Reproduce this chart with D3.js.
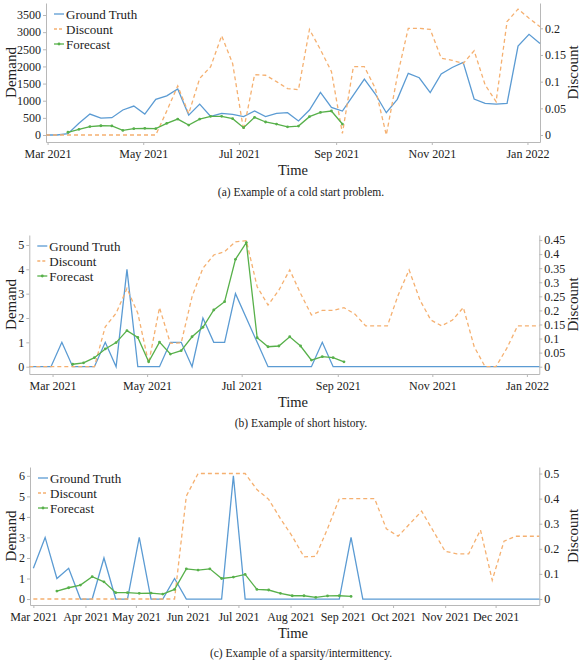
<!DOCTYPE html>
<html>
<head>
<meta charset="utf-8">
<script src="https://cdn.jsdelivr.net/npm/d3@7"></script>
<style>
  body { margin: 0; background: #fff; }
  text { font-family: "Liberation Serif", "Times New Roman", serif; fill: #222; }
</style>
</head>
<body>
<div id="chart"></div>
<script>
// ---- data (weekly) ----
// (a) cold start
const startA = "2021-02-28";
const truthA = [0, 0, 40, 340, 610, 490, 505, 730, 845, 610, 1040, 1140, 1340, 580, 900, 540, 630, 600, 535, 700, 535, 630, 650, 410, 730, 1245, 805, 700, 1165, 1630, 1195, 650, 1040, 1800, 1670, 1235, 1780, 1970, 2120, 1050, 925, 900, 925, 2595, 2935, 2670];
const discountA = [0, 0, 0, 0, 0, 0, 0, 0, 0, 0, 0, 0.045, 0.092, 0.04, 0.106, 0.128, 0.186, 0.134, 0.009, 0.113, 0.112, 0.1, 0.087, 0.085, 0.198, 0.16, 0.119, 0.003, 0.128, 0.128, 0.0875, 0, 0.11, 0.2, 0.2, 0.198, 0.144, 0.14, 0.134, 0.158, 0.094, 0.0625, 0.2125, 0.236, 0.219, 0.203];
const forecastA = [null, null, 80, 165, 245, 270, 265, 135, 185, 195, 185, 340, 465, 290, 465, 545, 545, 475, 215, 515, 380, 320, 240, 260, 535, 660, 700, 320];
const demandTicksA = [0, 500, 1000, 1500, 2000, 2500, 3000, 3500];
const discountTicksA = [0, 0.05, 0.1, 0.15, 0.2];

// (b) short history
const startB = "2021-02-14";
const truthB = [0, 0, 0, 1, 0, 0, 0, 1, 0, 4, 0, 0, 0, 1, 1, 0, 2, 1, 1, 3, 2, 1, 0, 0, 0, 0, 0, 1, 0, 0, 0, 0, 0, 0, 0, 0, 0, 0, 0, 0, 0, 0, 0, 0, 0, 0, 0, 0];
const discountB = [0, 0, 0, 0, 0, 0, 0, 0.142, 0.19, 0.278, 0.19, 0.012, 0.21, 0.083, 0.085, 0.249, 0.35, 0.397, 0.409, 0.444, 0.448, 0.284, 0.219, 0.272, 0.344, 0.26, 0.184, 0.2, 0.2, 0.21, 0.187, 0.145, 0.145, 0.145, 0.255, 0.344, 0.237, 0.166, 0.145, 0.166, 0.21, 0.071, 0, 0, 0.065, 0.145, 0.145, 0.145];
const forecastB = [null, null, null, null, 0.1, 0.16, 0.37, 0.73, 0.99, 1.48, 1.2, 0.2, 1.01, 0.52, 0.66, 1.23, 1.62, 2.33, 2.67, 4.41, 5.1, 1.19, 0.82, 0.85, 1.23, 0.85, 0.27, 0.41, 0.37, 0.2];
const demandTicksB = [0, 1, 2, 3, 4, 5];
const discountTicksB = [0, 0.05, 0.1, 0.15, 0.2, 0.25, 0.3, 0.35, 0.4, 0.45];

// (c) sparsity / intermittency
const startC = "2021-03-01";
const truthC = [1.5, 3, 1, 1.5, 0, 0, 2, 0, 0, 3, 0, 0, 1, 0, 0, 0, 0, 6, 0, 0, 0, 0, 0, 0, 0, 0, 0, 3, 0, 0, 0, 0, 0, 0, 0, 0, 0, 0, 0, 0, 0, 0, 0, 0];
const discountC = [0, 0, 0, 0, 0, 0, 0, 0, 0, 0, 0, 0, 0, 0.41, 0.5, 0.5, 0.5, 0.5, 0.5, 0.436, 0.397, 0.32, 0.25, 0.168, 0.17, 0.28, 0.4, 0.4, 0.4, 0.4, 0.28, 0.25, 0.3, 0.35, 0.27, 0.19, 0.18, 0.18, 0.275, 0.075, 0.23, 0.25, 0.25, 0.25];
const forecastC = [null, null, 0.39, 0.55, 0.68, 1.09, 0.84, 0.31, 0.31, 0.28, 0.29, 0.24, 0.47, 1.47, 1.41, 1.47, 1.0, 1.07, 1.2, 0.47, 0.44, 0.28, 0.16, 0.16, 0.08, 0.15, 0.16, 0.13];
const demandTicksC = [0, 1, 2, 3, 4, 5, 6];
const discountTicksC = [0, 0.1, 0.2, 0.3, 0.4, 0.5];

const legendNames = ["Ground Truth", "Discount", "Forecast"];
const captions = ["(a) Example of a cold start problem.", "(b) Example of short history.", "(c) Example of a sparsity/intermittency."];

// ---- layout ----
const W = 580, H = 664;
const serif = '"Liberation Serif", "Times New Roman", serif';
const colors = { truth: "#5b9bd3", discount: "#f5b070", forecast: "#57b04a", axis: "#b8b8b8" };

const panels = [
  { start: startA, truth: truthA, discount: discountA, forecast: forecastA,
    xDomain: ["2021-02-28", "2022-01-09"], months: 2,
    left: 46, right: 540, top: 3, bottom: 142,
    yDomain: [-204, 3850], y2Domain: [-0.0131, 0.2474],
    yTicks: demandTicksA, y2Ticks: discountTicksA,
    timeY: 170, captionY: 192, caption: captions[0] },
  { start: startB, truth: truthB, discount: discountB, forecast: forecastB,
    xDomain: ["2021-02-14", "2022-01-09"], months: 2,
    left: 29.3, right: 539.3, top: 235, bottom: 374,
    yDomain: [-0.3, 5.41], y2Domain: [-0.026, 0.468],
    yTicks: demandTicksB, y2Ticks: discountTicksB,
    timeY: 402, captionY: 423, caption: captions[1] },
  { start: startC, truth: truthC, discount: discountC, forecast: forecastC,
    xDomain: ["2021-02-27", "2021-12-27"], months: 1,
    left: 30, right: 539.3, top: 467, bottom: 605,
    yDomain: [-0.29, 6.43], y2Domain: [-0.024, 0.526],
    yTicks: demandTicksC, y2Ticks: discountTicksC,
    timeY: 633, captionY: 653, caption: captions[2] }
];

const svg = d3.select("#chart").append("svg")
  .attr("width", W)
  .attr("height", H)
  .attr("font-family", serif);

function styleAxis(g) {
  g.attr("font-family", serif).attr("font-size", 12);
  g.select(".domain").attr("stroke", colors.axis);
  g.selectAll(".tick line").attr("stroke", colors.axis);
  g.selectAll(".tick text").attr("fill", "#1a1a1a");
}

panels.forEach(p => {
  const parse = d3.utcParse("%Y-%m-%d");
  const t0 = parse(p.start);
  const dates = p.truth.map((d, i) => d3.utcDay.offset(t0, 7 * i));

  const x = d3.scaleUtc().domain(p.xDomain.map(parse)).range([p.left, p.right]);
  const y = d3.scaleLinear().domain(p.yDomain).range([p.bottom, p.top]);
  const y2 = d3.scaleLinear().domain(p.y2Domain).range([p.bottom, p.top]);

  const g = svg.append("g");

  // axes
  g.append("g")
    .attr("transform", `translate(0,${p.bottom})`)
    .call(d3.axisBottom(x).ticks(d3.utcMonth.every(p.months))
      .tickFormat(d3.utcFormat("%b %Y")).tickSize(3).tickSizeOuter(0).tickPadding(4))
    .call(styleAxis);

  g.append("g")
    .attr("transform", `translate(${p.left},0)`)
    .call(d3.axisLeft(y).tickValues(p.yTicks).tickFormat(d => String(d))
      .tickSize(3).tickSizeOuter(0).tickPadding(2))
    .call(styleAxis);

  g.append("g")
    .attr("transform", `translate(${p.right},0)`)
    .call(d3.axisRight(y2).tickValues(p.y2Ticks).tickFormat(d => String(+d.toFixed(2)))
      .tickSize(3).tickSizeOuter(0).tickPadding(2))
    .call(styleAxis);

  // series
  const lineL = d3.line()
    .defined(d => d[1] != null)
    .x(d => x(d[0]))
    .y(d => y(d[1]));
  const lineR = d3.line()
    .x(d => x(d[0]))
    .y(d => y2(d[1]));

  g.append("path")
    .datum(p.truth.map((v, i) => [dates[i], v]))
    .attr("fill", "none")
    .attr("stroke", colors.truth)
    .attr("stroke-width", 1.3)
    .attr("d", lineL);

  g.append("path")
    .datum(p.discount.map((v, i) => [dates[i], v]))
    .attr("fill", "none")
    .attr("stroke", colors.discount)
    .attr("stroke-width", 1.3)
    .attr("stroke-dasharray", "4,3")
    .attr("d", lineR);

  const fc = p.forecast.map((v, i) => [dates[i], v]);
  g.append("path")
    .datum(fc)
    .attr("fill", "none")
    .attr("stroke", colors.forecast)
    .attr("stroke-width", 1.3)
    .attr("d", lineL);

  g.selectAll(".fdot")
    .data(fc.filter(d => d[1] != null))
    .join("circle")
    .attr("cx", d => x(d[0]))
    .attr("cy", d => y(d[1]))
    .attr("r", 1.4)
    .attr("fill", colors.forecast);

  // legend
  const lg = g.append("g").attr("transform", `translate(${p.left + 8},${p.top + 11})`);
  legendNames.forEach((name, k) => {
    const row = lg.append("g").attr("transform", `translate(0,${k * 15})`);
    const ln = row.append("line")
      .attr("x1", 0).attr("x2", 10).attr("y1", 0).attr("y2", 0)
      .attr("stroke-width", 1.3)
      .attr("stroke", [colors.truth, colors.discount, colors.forecast][k]);
    if (k === 1) ln.attr("stroke-dasharray", "3,2");
    if (k === 2) row.append("circle").attr("cx", 5).attr("cy", 0).attr("r", 1.4).attr("fill", colors.forecast);
    row.append("text")
      .attr("x", 12).attr("y", 0).attr("dy", "0.35em")
      .style("font-size", "13px")
      .text(name);
  });

  // titles
  const midY = (p.top + p.bottom) / 2;
  g.append("text")
    .attr("transform", `translate(11,${midY}) rotate(-90)`)
    .attr("text-anchor", "middle").attr("dy", "0.35em")
    .style("font-size", "15px")
    .text("Demand");
  g.append("text")
    .attr("transform", `translate(573,${midY}) rotate(-90)`)
    .attr("text-anchor", "middle").attr("dy", "0.35em")
    .style("font-size", "15px")
    .text("Discount");
  g.append("text")
    .attr("x", 293).attr("y", p.timeY).attr("dy", "0.35em")
    .attr("text-anchor", "middle")
    .style("font-size", "14.5px")
    .text("Time");
  g.append("text")
    .attr("x", 301).attr("y", p.captionY).attr("dy", "0.35em")
    .attr("text-anchor", "middle")
    .style("font-size", "11.5px")
    .text(p.caption);
});
</script>
</body>
</html>
